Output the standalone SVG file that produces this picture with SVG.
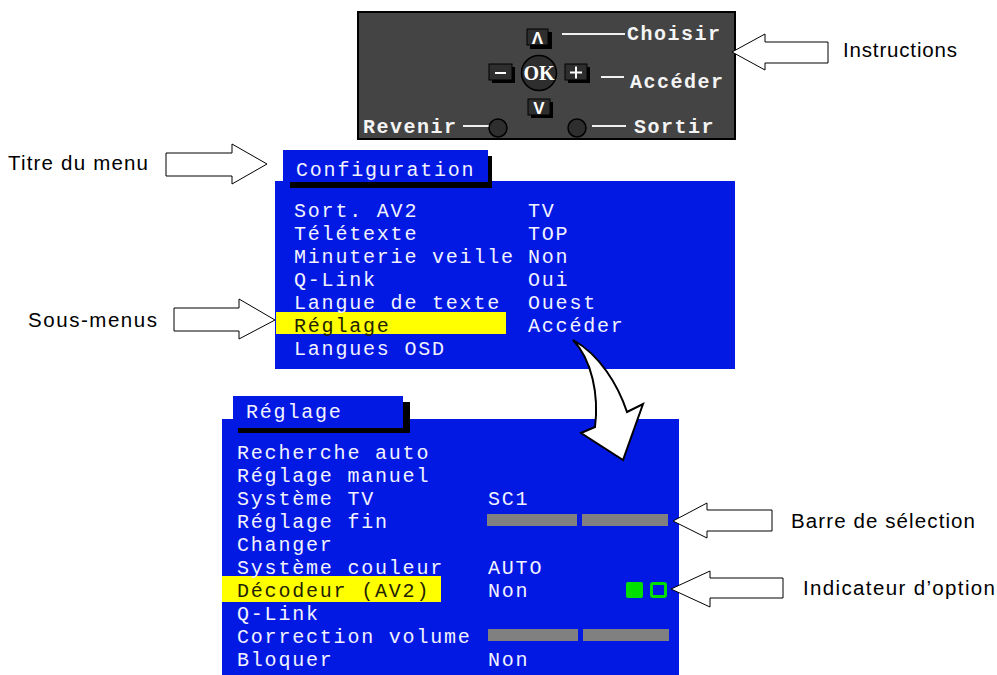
<svg xmlns="http://www.w3.org/2000/svg" width="997" height="675" viewBox="0 0 997 675">
<style>
.lbl{font-family:"Liberation Sans",Arial,sans-serif;font-size:20.5px;fill:#000}
.osd{font-family:"Liberation Mono","Courier New",monospace;font-size:20px;letter-spacing:1.8px;fill:#f2f2ff}
.sel{fill:#222200}
.rc{font-family:"Liberation Mono","Courier New",monospace;font-size:20px;font-weight:bold;letter-spacing:1.5px;fill:#f4f4f4}
.blue{fill:#0219e4}
.shadow{fill:#000}
.btn{fill:#2e2e2e;stroke:#000;stroke-width:1}
.glyph{font-family:"Liberation Sans",sans-serif;font-size:17px;font-weight:bold;fill:#fff}
.wl{stroke:#f0f0f0;stroke-width:2;fill:none}
.callout{fill:#fff;stroke:#000;stroke-width:1}
.bar{fill:#808080}
</style>
<rect width="997" height="675" fill="#fff"/>

<g id="remote">
  <rect x="358" y="12" width="377" height="127" fill="#444" stroke="#000" stroke-width="2"/>
  <rect x="530" y="32" width="22" height="17" class="shadow"/>
  <rect x="527" y="29" width="21" height="16" class="btn"/>
  <text x="537.5" y="44" text-anchor="middle" class="glyph">Λ</text>
  <rect x="492" y="67" width="23" height="16" class="shadow"/>
  <rect x="489" y="64" width="23" height="16" class="btn"/>
  <line x1="495" y1="73" x2="506" y2="73" stroke="#fff" stroke-width="2"/>
  <rect x="568" y="67" width="22" height="16" class="shadow"/>
  <rect x="565" y="64" width="22" height="16" class="btn"/>
  <path d="M570,72.5 H582 M576,66.5 V78.5" stroke="#fff" stroke-width="2"/>
  <rect x="531" y="102" width="22" height="16" class="shadow"/>
  <rect x="528" y="99" width="22" height="16" class="btn"/>
  <text x="539" y="114" text-anchor="middle" class="glyph">V</text>
  <circle cx="539" cy="73" r="17.5" fill="#2e2e2e" stroke="#000" stroke-width="1.5"/>
  <text x="539" y="80" text-anchor="middle" font-family="Liberation Serif,serif" font-size="20" font-weight="bold" fill="#fff">OK</text>
  <line x1="562" y1="34" x2="625" y2="34" class="wl"/>
  <text x="627" y="40" class="rc">Choisir</text>
  <line x1="601" y1="77" x2="624" y2="77" class="wl"/>
  <text x="630" y="88" class="rc">Accéder</text>
  <text x="363" y="133" class="rc">Revenir</text>
  <line x1="463" y1="126" x2="489" y2="126" class="wl"/>
  <circle cx="498" cy="128" r="9" fill="#2e2e2e" stroke="#000" stroke-width="1.5"/>
  <circle cx="577" cy="128" r="9" fill="#2e2e2e" stroke="#000" stroke-width="1.5"/>
  <line x1="592" y1="126" x2="626" y2="126" class="wl"/>
  <text x="634" y="133" class="rc">Sortir</text>
</g>

<g id="config-menu">
  <rect x="275" y="181" width="460" height="188" class="blue"/>
  <rect x="290" y="156" width="202" height="32" class="shadow"/>
  <rect x="283" y="150" width="205" height="32" class="blue"/>
  <text x="296" y="176" class="osd">Configuration</text>
  <rect x="276" y="312" width="230" height="22" fill="#ffff00"/>
  <text x="294" y="217" class="osd">Sort. AV2</text>
  <text x="294" y="240" class="osd">Télétexte</text>
  <text x="294" y="263" class="osd">Minuterie veille</text>
  <text x="294" y="286" class="osd">Q-Link</text>
  <text x="294" y="309" class="osd">Langue de texte</text>
  <text x="294" y="332" class="osd sel">Réglage</text>
  <text x="294" y="355" class="osd">Langues OSD</text>
  <text x="528" y="217" class="osd">TV</text>
  <text x="528" y="240" class="osd">TOP</text>
  <text x="528" y="263" class="osd">Non</text>
  <text x="528" y="286" class="osd">Oui</text>
  <text x="528" y="309" class="osd">Ouest</text>
  <text x="528" y="332" class="osd">Accéder</text>
</g>

<g id="reglage-menu">
  <rect x="222" y="419" width="457" height="256" class="blue"/>
  <rect x="238" y="402" width="172" height="31" class="shadow"/>
  <rect x="233" y="396" width="170" height="32" class="blue"/>
  <text x="246" y="418" class="osd">Réglage</text>
  <rect x="222" y="576" width="219" height="26" fill="#ffff00"/>
  <text x="237" y="459" class="osd">Recherche auto</text>
  <text x="237" y="482" class="osd">Réglage manuel</text>
  <text x="237" y="505" class="osd">Système TV</text>
  <text x="237" y="528" class="osd">Réglage fin</text>
  <text x="237" y="551" class="osd">Changer</text>
  <text x="237" y="574" class="osd">Système couleur</text>
  <text x="237" y="597" class="osd sel">Décodeur (AV2)</text>
  <text x="237" y="620" class="osd">Q-Link</text>
  <text x="237" y="643" class="osd">Correction volume</text>
  <text x="237" y="666" class="osd">Bloquer</text>
  <text x="488" y="505" class="osd">SC1</text>
  <rect x="487" y="514" width="90" height="12" class="bar"/>
  <rect x="582" y="514" width="86" height="12" class="bar"/>
  <text x="488" y="574" class="osd">AUTO</text>
  <text x="488" y="597" class="osd">Non</text>
  <rect x="626" y="582" width="17" height="16" rx="2" fill="#00e000"/>
  <rect x="651.5" y="583.5" width="14" height="13" rx="1.5" fill="none" stroke="#00e000" stroke-width="3"/>
  <rect x="488" y="629" width="90" height="12" class="bar"/>
  <rect x="583" y="629" width="86" height="12" class="bar"/>
  <text x="488" y="666" class="osd">Non</text>
</g>

<g id="label-instructions"><text x="843" y="57" class="lbl" textLength="114">Instructions</text></g>
<g id="label-titre"><text x="8" y="170" class="lbl" textLength="140">Titre du menu</text></g>
<g id="label-sous-menus"><text x="28" y="327" class="lbl" textLength="129">Sous-menus</text></g>
<g id="label-barre"><text x="791" y="528" class="lbl" textLength="184">Barre de sélection</text></g>
<g id="label-indicateur"><text x="803" y="595" class="lbl" textLength="192">Indicateur d’option</text></g>

<g id="connectors">
  <path class="callout" d="M732,52 L765,34 L765,42 L828,42 L828,63 L765,63 L765,70 Z"/>
  <path class="callout" d="M267,164 L232,144 L232,153 L166,153 L166,176 L232,176 L232,184 Z"/>
  <path class="callout" d="M275,320 L239,299 L239,308 L174,308 L174,331 L239,331 L239,339 Z"/>
  <path class="callout" d="M673,521 L707,503 L707,510 L772,510 L772,531 L707,531 L707,538 Z"/>
  <path class="callout" d="M671,589 L710,571 L710,578 L783,578 L783,598 L710,598 L710,607 Z"/>
  <path d="M573,340 C600,355 618,385 627,412 L643,404 L623,460 L581,433 L595,427 C599,395 592,360 573,340 Z" fill="#fff" stroke="#000" stroke-width="2" stroke-linejoin="miter"/>
</g>
</svg>
